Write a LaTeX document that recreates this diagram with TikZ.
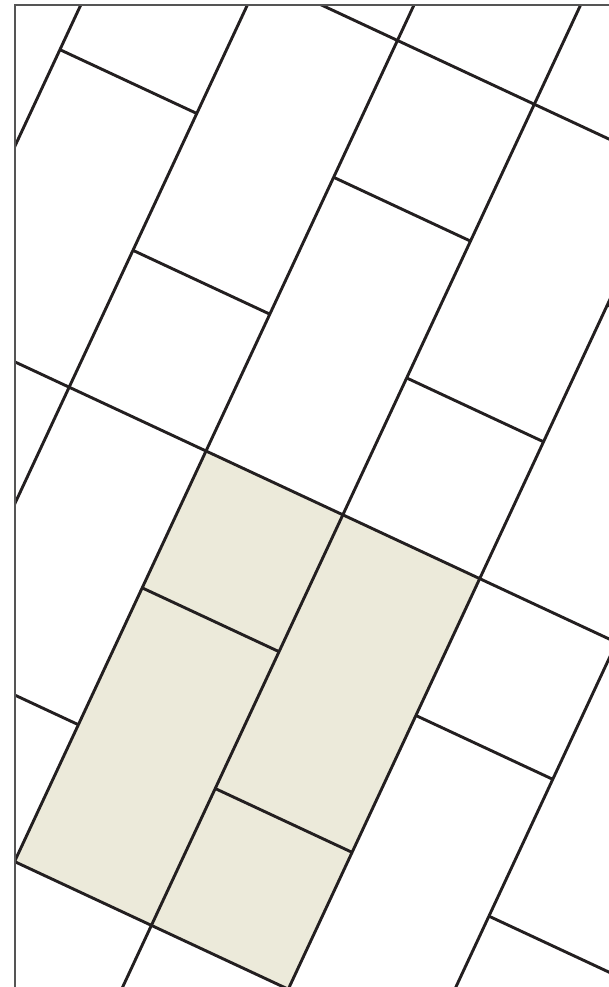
\documentclass[tikz,border=0pt]{standalone}
\definecolor{tileline}{HTML}{231F20}
\definecolor{tilefill}{HTML}{ECEADA}
\definecolor{framecol}{HTML}{555555}
\begin{document}
\begin{tikzpicture}[x=1pt,y=1pt,
  tileedge/.style={draw=tileline,line width=2.9pt},
  framestyle/.style={draw=framecol,line width=2pt}]
\useasboundingbox (0,0) rectangle (609,-987);
\begin{scope}
  \clip (15,-5) rectangle (609,-987);
  \begin{scope}[shift={(206pt,-451pt)}, rotate=-25, x=151pt, y=-151pt]
    \fill[tilefill] (0,0) rectangle (2,3);
    \foreach \i in {-4,...,5} \draw[tileedge] (\i,-6) -- (\i,8);
    \foreach \j in {-6,-3,0,3,6} \draw[tileedge] (-5,\j) -- (6,\j);
    \foreach \i in {-4,...,5}{
      \pgfmathtruncatemacro\b{1+mod(\i+10,2)}
      \foreach \k in {-3,...,3}{
        \pgfmathtruncatemacro\jj{\b+3*\k}
        \draw[tileedge] (\i,\jj) -- (\i+1,\jj);
      }
    }
  \end{scope}
\end{scope}
\draw[framestyle] (15,-987) -- (15,-5) -- (609,-5);
\end{tikzpicture}
\end{document}
